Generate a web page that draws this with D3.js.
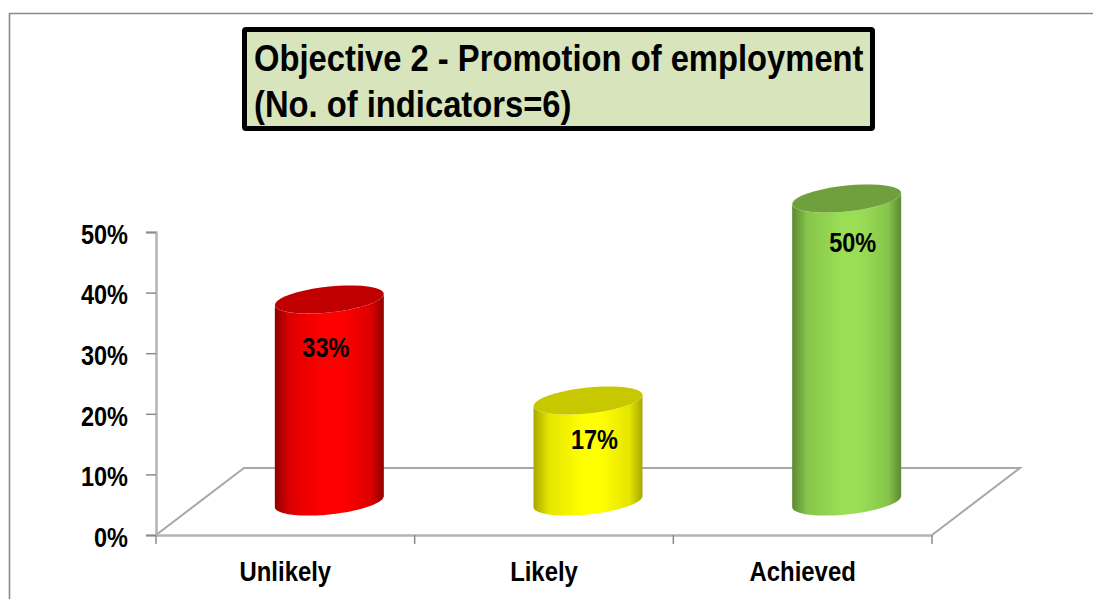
<!DOCTYPE html>
<html><head><meta charset="utf-8">
<script src="https://cdnjs.cloudflare.com/ajax/libs/d3/7.8.5/d3.min.js"></script>
<style>html,body{margin:0;padding:0;background:#fff}svg{display:block}
text{font-family:"Liberation Sans",Arial,sans-serif;font-weight:700;fill:#000}</style>
</head><body><svg id="c" width="1093" height="599"></svg>
<script>
const categories = ["Unlikely", "Likely", "Achieved"];
const values = [0.3333, 0.1667, 0.5];
const yTicks = [0, 0.1, 0.2, 0.3, 0.4, 0.5];
const titleLines = ["Objective 2 - Promotion of employment", "(No. of indicators=6)"];
const bodyColors = [
  {edge:"#8f0000", mid:"#ff0000", top:"#c00000"},
  {edge:"#a8a800", mid:"#ffff00", top:"#c8c800"},
  {edge:"#5c8a32", mid:"#9ade55", top:"#6f9f3e"}
];
const labelNudge = [[-3.5, 47], [6.5, 39], [6, 43]];

const svg = d3.select("#c");
const M = {l:156, r:932, t:232, b:535};
const depth = {x:88, y:-67};
const x = d3.scaleBand().domain(categories).range([M.l, M.r]);
const y = d3.scaleLinear().domain([0, 0.5]).range([M.b, M.t]);
const squeeze = (sel, k) => sel.each(function(){
  this.setAttribute("textLength", this.getComputedTextLength()*k);
  this.setAttribute("lengthAdjust", "spacingAndGlyphs");
});

// outer frame
svg.append("path").attr("d","M9.5,599V13.5H1093").attr("fill","none").attr("stroke","#8a8a8a").attr("stroke-width",1.6);

// title box
svg.append("rect").attr("x",244.5).attr("y",29.5).attr("width",628).attr("height",99).attr("rx",1.5)
  .attr("fill","#d8e4bc").attr("stroke","#000").attr("stroke-width",5);
svg.selectAll("text.title").data(titleLines).join("text").attr("class","title")
  .attr("x",254).attr("y",(d,i)=>71+i*46).attr("font-size",37).text(d=>d).call(squeeze,0.885);

// floor
svg.append("path")
  .attr("d",`M${M.l},${M.b}L${M.l+depth.x},${M.b+depth.y}H${M.r+depth.x}L${M.r},${M.b}`)
  .attr("fill","none").attr("stroke","#a8a8a8").attr("stroke-width",2);

// axes
const gy = svg.append("g").attr("transform",`translate(${M.l},0)`)
  .call(d3.axisLeft(y).tickValues(yTicks).tickFormat(d3.format(".0%")).tickSize(10).tickPadding(18));
const gx = svg.append("g").attr("transform",`translate(0,${M.b})`)
  .call(d3.axisBottom(x).tickSize(0).tickPadding(27));
[gy,gx].forEach(g=>{
  g.select(".domain").attr("stroke","#b4b4b4").attr("stroke-width",2.5);
  g.selectAll("line").attr("stroke","#8c8c8c").attr("stroke-width",1.5);
});
gy.selectAll("text").attr("font-size",27).attr("font-family",null).attr("dy","0.42em").call(squeeze,0.87);
gx.selectAll("text").attr("font-size",27).attr("font-family",null).attr("dy","0.71em").call(squeeze,0.885);
svg.append("g").selectAll("line").data(d3.range(4)).join("line")
  .attr("x1",i=>M.l+i*x.step()).attr("x2",i=>M.l+i*x.step()).attr("y1",M.b).attr("y2",M.b+9)
  .attr("stroke","#8c8c8c").attr("stroke-width",1.5);

// cylinders
const defs = svg.append("defs");
defs.append("filter").attr("id","soft").append("feGaussianBlur").attr("stdDeviation",0.5);
bodyColors.forEach((c,i)=>{
  const g = defs.append("linearGradient").attr("id","g"+i);
  [[0,c.edge],[0.14,d3.interpolateRgb(c.edge,c.mid)(0.7)],[0.45,c.mid],[0.62,c.mid],[0.88,d3.interpolateRgb(c.edge,c.mid)(0.7)],[1,c.edge]]
    .forEach(s=>g.append("stop").attr("offset",s[0]).attr("stop-color",s[1]));
});
const rx = 54.5, shear = 5.5, ry = 13;
const ring = (cx,cy,a0,a1) => d3.range(0,41).map(k=>{
  const t = a0+(a1-a0)*k/40;
  return [cx+rx*Math.cos(t), cy-shear*Math.cos(t)+ry*Math.sin(t)];
});
const line = d3.line();
const centre = i => x(categories[i])+x.bandwidth()/2+depth.x/2;
const cyl = svg.append("g").selectAll("g").data(values).join("g").attr("filter","url(#soft)");
cyl.append("path")
  .attr("d",(d,i)=>{
    const lower = ring(centre(i),y(0)+depth.y/2,Math.PI,0);
    const upper = ring(centre(i),y(d)+depth.y/2,0,Math.PI);
    return line(lower.concat(upper))+"Z";
  }).attr("fill",(d,i)=>`url(#g${i})`);
cyl.append("path")
  .attr("d",(d,i)=>line(ring(centre(i),y(d)+depth.y/2,0,2*Math.PI))+"Z")
  .attr("fill",(d,i)=>bodyColors[i].top);

// data labels
svg.append("g").selectAll("text").data(values).join("text")
  .attr("text-anchor","middle").attr("font-size",27)
  .attr("x",(d,i)=>centre(i)+labelNudge[i][0])
  .attr("y",(d,i)=>y(d)+depth.y/2+labelNudge[i][1]+10)
  .text(d=>d3.format(".0%")(d)).call(squeeze,0.87);
</script></body></html>
